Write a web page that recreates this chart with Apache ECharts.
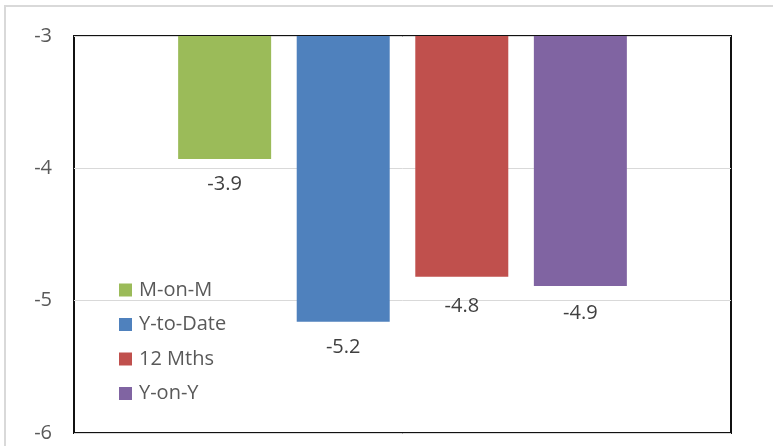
<!DOCTYPE html>
<html>
<head>
<meta charset="utf-8">
<script src="https://cdn.jsdelivr.net/npm/echarts@6/dist/echarts.min.js"></script>
<style>
  html, body { margin: 0; padding: 0; background: #fff; }
  #chart { width: 773px; height: 446px; }
</style>
</head>
<body>
<div id="chart"></div>
<script>
// Change rates by period (one bar per measure)
const seriesNames = ['M-on-M', 'Y-to-Date', '12 Mths', 'Y-on-Y'];
const seriesValues = [-3.93, -5.16, -4.82, -4.89];
const seriesColors = ['#9BBB59', '#4F81BD', '#C0504D', '#8064A2'];
const labelDistances = [15, 15, 19, 17];
const yTicks = [-6, -5, -4, -3];

const FONT = "'Open Sans', 'Liberation Sans', sans-serif";

const chart = echarts.init(document.getElementById('chart'), null, { renderer: 'canvas' });

const series = seriesNames.map((name, i) => ({
  name: name,
  type: 'bar',
  data: [seriesValues[i]],
  barWidth: 93,
  barGap: '27.5%',
  itemStyle: { color: seriesColors[i] },
  label: {
    show: true,
    position: 'bottom',
    distance: labelDistances[i],
    fontFamily: FONT,
    fontSize: 20,
    color: '#404040',
    formatter: p => p.value.toFixed(1)
  }
}));

chart.setOption({
  animation: false,
  backgroundColor: '#fff',
  graphic: [{
    type: 'rect',
    shape: { x: 5, y: 6, width: 820, height: 500 },
    style: { fill: 'none', stroke: '#d9d9d9', lineWidth: 2 },
    silent: true
  }],
  grid: {
    left: 74, right: 42, top: 36, bottom: 13,
    show: true,
    borderColor: '#111',
    borderWidth: 2,
    backgroundColor: 'transparent'
  },
  legend: {
    orient: 'vertical',
    left: 119,
    top: 280,
    padding: 0,
    icon: 'rect',
    itemWidth: 13,
    itemHeight: 13,
    itemGap: 14.5,
    data: seriesNames,
    textStyle: {
      fontFamily: FONT,
      fontSize: 20,
      color: '#595959',
      lineHeight: 20,
      padding: [0, 0, 0, 2]
    }
  },
  xAxis: {
    type: 'category',
    data: [''],
    axisLine: { show: false },
    axisTick: { show: false },
    axisLabel: { show: false }
  },
  yAxis: {
    type: 'value',
    min: yTicks[0],
    max: yTicks[yTicks.length - 1],
    interval: 1,
    axisLine: { show: false },
    axisTick: { show: false },
    axisLabel: {
      fontFamily: FONT,
      fontSize: 20,
      color: '#595959',
      margin: 22
    },
    splitLine: { lineStyle: { color: '#d9d9d9', width: 1 } }
  },
  series: series
});
</script>
</body>
</html>
